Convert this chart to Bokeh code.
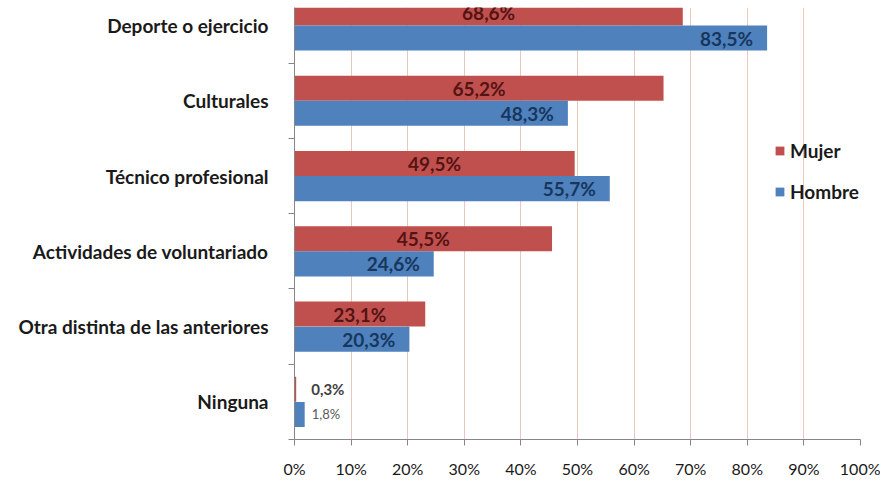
from bokeh.plotting import figure
from bokeh.models import Range1d, FixedTicker, PrintfTickFormatter, ColumnDataSource
from bokeh.core.properties import value
from bokeh.embed import file_html
from bokeh.resources import INLINE

# Data (top to bottom as in the chart)
categories = ["Deporte o ejercicio", "Culturales", "Técnico profesional",
              "Actividades de voluntariado", "Otra distinta de las anteriores", "Ninguna"]
mujer = [68.6, 65.2, 49.5, 45.5, 23.1, 0.3]
hombre = [83.5, 48.3, 55.7, 24.6, 20.3, 1.8]
x_ticks = [0, 10, 20, 30, 40, 50, 60, 70, 80, 90, 100]

RED = "#C0504D"
BLUE = "#4F81BD"
FONT = "Lato"

n = len(categories)
ypos = [n - 1 - i for i in range(n)]  # Deporte at top
off = 0.167
h = 0.333

def fmt(v):
    return f"{v:.1f}".replace(".", ",") + "%"

src_m = ColumnDataSource(dict(y=[y + off for y in ypos], v=mujer,
                              half=[v / 2 for v in mujer], lab=[fmt(v) for v in mujer]))
src_h = ColumnDataSource(dict(y=[y - off for y in ypos], v=hombre,
                              lab=[fmt(v) for v in hombre]))

p = figure(width=880, height=480, output_backend="svg", toolbar_location=None,
           x_range=Range1d(0, 100), y_range=Range1d(-0.5, 5.239),
           min_border_left=294, min_border_right=20, min_border_top=7, min_border_bottom=38)
p.outline_line_color = None
p.background_fill_color = "white"

rm = p.hbar(y="y", right="v", left=0, height=h, source=src_m, color=RED, line_color=None,
            legend_label="Mujer")
rh = p.hbar(y="y", right="v", left=0, height=h, source=src_h, color=BLUE, line_color=None,
            legend_label="Hombre")

# Value labels
main = list(range(n - 1))
src_ml = ColumnDataSource(dict(x=[src_m.data["half"][i] for i in main],
                               y=[src_m.data["y"][i] for i in main],
                               t=[src_m.data["lab"][i] for i in main]))
p.text(x="x", y="y", text="t", source=src_ml, text_align="center", text_baseline="middle",
       text_font=value(FONT), text_font_style="bold", text_font_size="19px", text_color="#541414")
src_hl = ColumnDataSource(dict(x=[hombre[i] for i in main],
                               y=[src_h.data["y"][i] for i in main],
                               t=[src_h.data["lab"][i] for i in main]))
p.text(x="x", y="y", text="t", source=src_hl, text_align="right", text_baseline="middle",
       x_offset=-14, text_font=value(FONT), text_font_style="bold", text_font_size="19px",
       text_color="#17375E")
last = n - 1
p.text(x=[mujer[last]], y=[src_m.data["y"][last]], text=[fmt(mujer[last])], text_align="left",
       text_baseline="middle", x_offset=15, text_font=value(FONT), text_font_style="bold",
       text_font_size="15px", text_color="#404040")
p.text(x=[hombre[last]], y=[src_h.data["y"][last]], text=[fmt(hombre[last])], text_align="left",
       text_baseline="middle", x_offset=7, text_font=value(FONT), text_font_size="13px",
       text_color="#595959")

# X axis
xa = p.xaxis[0]
xa.ticker = FixedTicker(ticks=x_ticks)
xa.formatter = PrintfTickFormatter(format="%d%%")
xa.axis_line_color = "#868686"
xa.major_tick_line_color = "#868686"
xa.major_tick_out = 6
xa.major_tick_in = 0
xa.minor_tick_line_color = None
xa.major_label_standoff = 13
xa.major_label_text_font = FONT
xa.major_label_text_font_size = "16px"
xa.major_label_text_color = "#1a1a1a"

# Y axis
ya = p.yaxis[0]
ya.ticker = FixedTicker(ticks=ypos, minor_ticks=[y - 0.5 for y in ypos])
ya.major_label_overrides = {y: c for y, c in zip(ypos, categories)}
ya.axis_line_color = "#868686"
ya.major_tick_line_color = None
ya.major_tick_out = 0
ya.major_tick_in = 0
ya.minor_tick_line_color = "#868686"
ya.minor_tick_out = 6
ya.minor_tick_in = 0
ya.major_label_standoff = 20
ya.major_label_text_font = FONT
ya.major_label_text_font_style = "bold"
ya.major_label_text_font_size = "19px"
ya.major_label_text_color = "#1a1a1a"

# Grid
p.ygrid.grid_line_color = None
p.xgrid.ticker = FixedTicker(ticks=x_ticks[1:])
p.xgrid.grid_line_color = "#E6C9BF"
p.xgrid.grid_line_width = 1

# Legend
lg = p.legend[0]
lg.location = (480, 236)
lg.padding = 0
lg.margin = 0
lg.spacing = 18
lg.glyph_width = 11
lg.glyph_height = 11
lg.label_height = 20
lg.label_standoff = 5
lg.background_fill_alpha = 0
lg.border_line_color = None
lg.label_text_font = FONT
lg.label_text_font_style = "bold"
lg.label_text_font_size = "19px"
lg.label_text_color = "#1a1a1a"

open("out.html", "w").write(file_html(p, INLINE))
